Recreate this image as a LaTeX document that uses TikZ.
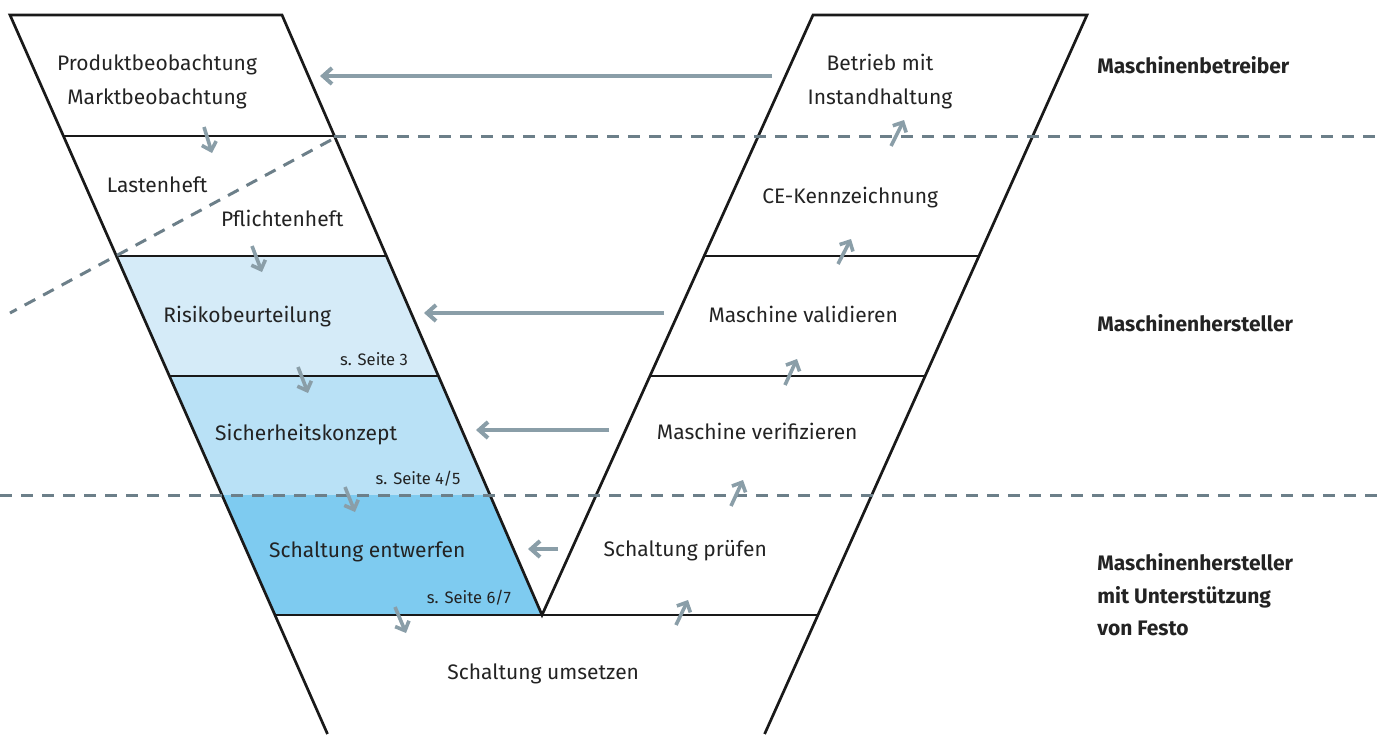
\documentclass[tikz,border=0pt]{standalone}
\usepackage{fontspec}
\setmainfont{Fira Sans}
\usetikzlibrary{arrows.meta}

\definecolor{inkgray}{RGB}{35,35,35}
\definecolor{flowgray}{RGB}{138,158,168}
\definecolor{splitgray}{RGB}{108,127,137}
\definecolor{bluelight}{RGB}{213,235,248}
\definecolor{bluemid}{RGB}{185,225,246}
\definecolor{bluedark}{RGB}{126,203,240}

\begin{document}
\begin{tikzpicture}[x=0.5pt,y=-0.5pt,font=\fontsize{10.5}{17}\selectfont,
    stage/.style={text=inkgray, align=center, inner sep=0pt},
    pageref/.style={text=inkgray, font=\fontsize{8.3}{10}\selectfont, inner sep=0pt},
    role/.style={text=inkgray, font=\fontsize{10.5}{16.25}\selectfont\bfseries, align=left, anchor=west, inner sep=0pt},
    frame/.style={draw=black!90, line width=1.35pt, line join=miter},
    flow/.style={draw=flowgray, line width=2pt, -{Straight Barb[length=4.5pt,width=8pt]}},
    hop/.style={draw=flowgray, line width=1.8pt, -{Straight Barb[length=3.8pt,width=7.5pt]}},
    split/.style={draw=splitgray, line width=1.5pt, dash pattern=on 6pt off 4.5pt}]

    \useasboundingbox (0,0) rectangle (1380,734);

    % shaded bands of the left arm
    \fill[bluelight] (116.4,256) -- (386.4,256) -- (438.4,376) -- (169.4,376) -- cycle;
    \fill[bluemid]   (169.4,376) -- (438.4,376) -- (490,495) -- (222,495) -- cycle;
    \fill[bluedark]  (222,495) -- (490,495) -- (542,615) -- (275,615) -- cycle;

    %------------------------------------------------

    % V outline and stage borders
    \draw[frame] (327.5,734) -- (10,15) -- (282,15) -- (542,615) -- (813,15) -- (1087,15) -- (764.6,734);
    \draw[frame] (63.4,136) -- (334.4,136);
    \draw[frame] (116.4,256) -- (386.4,256);
    \draw[frame] (169.4,376) -- (438.4,376);
    \draw[frame] (704.1,256) -- (979,256);
    \draw[frame] (649.9,376) -- (925.2,376);
    \draw[frame] (275,615) -- (818,615);

    %------------------------------------------------

    % responsibility borders
    \draw[split] (334.4,136) -- (1380,136);
    \draw[split] (331,140) -- (10,313);
    \draw[split] (0,495) -- (1380,495);

    %------------------------------------------------

    \node[stage] (produkt) at (157,82)
    { Produktbeobachtung\\Marktbeobachtung };

    \node[stage] (lasten) at (160,185)
    { Lastenheft };

    \node[stage] (pflicht) at (285,218)
    { Pflichtenheft };

    \node[stage] (risiko) at (250,317)
    { Risikobeurteilung };
    \node[pageref] (risikoref) at (374,359)
    { s. Seite 3 };

    \node[stage] (konzept) at (309,435)
    { Sicherheitskonzept };
    \node[pageref] (konzeptref) at (418,479)
    { s. Seite 4/5 };

    \node[stage] (entwurf) at (370,552)
    { Schaltung entwerfen };
    \node[pageref] (entwurfref) at (469,598)
    { s. Seite 6/7 };

    \node[stage] (umsetzen) at (546,674)
    { Schaltung umsetzen };

    %------------------------------------------------

    \node[stage] (betrieb) at (880,82)
    { Betrieb mit\\Instandhaltung };

    \node[stage] (ce) at (853,198)
    { CE-Kennzeichnung };

    \node[stage] (validieren) at (806,314)
    { Maschine validieren };

    \node[stage] (verifizieren) at (760,431)
    { Maschine verifizieren };

    \node[stage] (pruefen) at (688,551)
    { Schaltung prüfen };

    %------------------------------------------------

    \node[role] (betreiber) at (1097,65)
    { Maschinenbetreiber };

    \node[role] (hersteller) at (1097,323)
    { Maschinenhersteller };

    \node[role] (festo) at (1097,595)
    { Maschinenhersteller\\mit Unterstützung\\von Festo };

    %------------------------------------------------

    % arrow ends
    \coordinate (d1a) at (204,127);  \coordinate (d1b) at (212,153);
    \coordinate (d2a) at (252,246);  \coordinate (d2b) at (262,272);
    \coordinate (d3a) at (298,367);  \coordinate (d3b) at (308,393);
    \coordinate (d4a) at (345,487);  \coordinate (d4b) at (355,512);
    \coordinate (d5a) at (395,607);  \coordinate (d5b) at (406,633);

    \coordinate (u1a) at (676,625);  \coordinate (u1b) at (688,600);
    \coordinate (u2a) at (731,506);  \coordinate (u2b) at (743,480);
    \coordinate (u3a) at (785,385);  \coordinate (u3b) at (797,359);
    \coordinate (u4a) at (838,264);  \coordinate (u4b) at (851,239);
    \coordinate (u5a) at (891,146);  \coordinate (u5b) at (904,120);

    \coordinate (f1a) at (772,76);   \coordinate (f1b) at (320,76);
    \coordinate (f2a) at (664,313);  \coordinate (f2b) at (424,313);
    \coordinate (f3a) at (609,430);  \coordinate (f3b) at (476,430);
    \coordinate (f4a) at (558,549);  \coordinate (f4b) at (528,549);

    \path
    {
        (d1a) edge[hop] (d1b)
        (d2a) edge[hop] (d2b)
        (d3a) edge[hop] (d3b)
        (d4a) edge[hop] (d4b)
        (d5a) edge[hop] (d5b)

        (u1a) edge[hop] (u1b)
        (u2a) edge[hop] (u2b)
        (u3a) edge[hop] (u3b)
        (u4a) edge[hop] (u4b)
        (u5a) edge[hop] (u5b)

        (f1a) edge[flow] (f1b)
        (f2a) edge[flow] (f2b)
        (f3a) edge[flow] (f3b)
        (f4a) edge[flow] (f4b)
    };
\end{tikzpicture}
\end{document}
